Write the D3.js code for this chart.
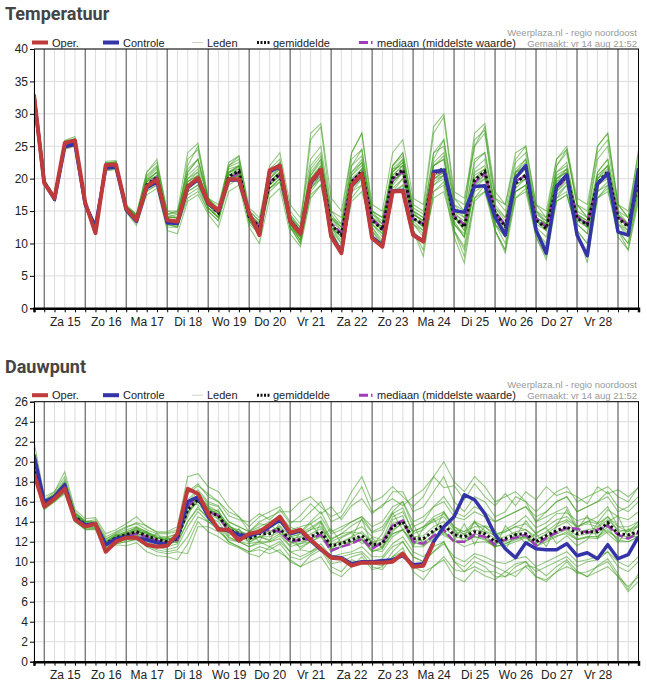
<!DOCTYPE html>
<html>
<head>
<meta charset="utf-8">
<script src="https://cdn.jsdelivr.net/npm/d3@7"></script>
<style>
  body { margin: 0; background: #fff; }
  text { font-family: Arial, "Liberation Sans", sans-serif; }
</style>
</head>
<body>
<script type="text/javascript">
// 6-hourly steps, first point vr 14 aug 18:00
var start = new Date(2020, 7, 14, 18),
    nSteps = 60,
    dayNames = ["Zo", "Ma", "Di", "Wo", "Do", "Vr", "Za"];

// ---- Temperatuur ----
var tOper = [32.9,19.3,17.0,25.5,25.9,16.3,11.6,22.1,22.2,15.4,
  13.6,18.8,19.9,13.6,13.4,18.8,20.1,16.3,15.1,19.9,
  19.9,14.7,11.3,21.3,22.0,13.4,11.5,19.5,21.4,11.1,
  8.5,19.0,20.7,10.8,9.5,18.0,18.1,11.3,10.3,20.9];
var tControle = [32.6,19.4,16.8,24.9,25.3,16.0,12.6,21.6,21.8,15.2,
  13.4,18.6,19.5,13.2,13.1,18.6,19.9,16.2,15.0,19.8,
  19.8,14.6,11.4,21.1,21.8,13.5,11.6,19.4,21.3,11.3,
  8.7,18.9,20.6,11.0,9.7,18.1,18.2,11.4,10.4,21.1,
  21.3,15.1,14.8,18.8,18.9,14.1,11.3,20.1,22.0,12.1,
  8.5,18.8,20.6,11.3,8.1,19.2,20.8,11.8,11.3,21.6];
var tGemiddelde = [33.0,19.5,17.0,25.2,25.5,16.0,12.4,21.8,22.0,15.4,
  13.8,19.0,20.2,13.5,13.3,18.9,20.1,16.2,14.7,20.3,
  21.2,14.1,12.6,19.3,20.8,13.6,11.6,19.3,21.6,12.9,
  11.3,19.5,21.1,13.6,12.1,20.1,21.4,13.9,12.9,20.8,
  21.6,14.1,12.5,19.8,21.1,14.7,12.6,19.3,20.6,13.6,
  12.3,18.8,20.3,13.9,12.9,19.3,21.1,13.9,12.6,19.8];
var tMediaan = [33.0,19.5,17.0,25.3,25.6,16.0,12.5,21.9,22.1,15.4,
  13.8,19.1,20.2,13.5,13.3,18.7,19.9,16.1,14.8,20.0,
  20.9,14.2,12.7,19.6,20.4,13.5,11.7,19.0,21.2,13.1,
  11.6,19.7,20.9,13.7,12.3,20.0,21.1,13.8,13.0,20.5,
  21.3,14.3,12.9,19.4,20.8,14.9,12.8,19.6,20.5,13.9,
  12.6,18.6,20.1,14.1,13.0,19.0,20.9,14.1,12.8,19.5];
var tLeden = [
  "33.5 | 19.8 17.2 25.8 26.2 | 16.3 12.8 22.5 22.6 | 15.8 14.3 19.8 21 | 14.5 14 20.5 22 | 17 15 21 22 | 15 13.5 21 22.5 | 14.5 12 22 24 | 14 12 21 23 | 15 13 22 23.5 | 15 14 24 25 | 16 14 23 24 | 16 14 21 22 | 14 13 20 21 | 15 14 21 23 | 15 13 21",
  "32.5 | 19.2 16.8 24.5 25 | 15.7 12 21.3 21.5 | 15 13.5 18 19 | 12.5 12.5 17 18 | 15 13.5 19 20 | 13 11.5 18 19.5 | 12.5 10 17.5 19 | 12 10 18 19 | 12.5 10.5 18 19 | 12 10 17 18 | 12 9 17 18 | 13 10 17 18.5 | 12 9.5 16.5 17.5 | 12 10 17 18 | 12 10 17",
  "33.2 | 19.6 17.1 25.3 25.8 | 16.2 12.6 22.3 22.4 | 15.6 14.2 20 21.5 | 14 13 23 24.5 | 16.5 15 22 23 | 14.5 13 21 22 | 14 12 26 28 | 15 13 23 24.5 | 14 12 22 24 | 16 15 27 29.5 | 17 15 26 27.5 | 15 13 21 22.5 | 14 12 22 24 | 16 14 24 26 | 16 14 22",
  "32.8 | 19.4 16.9 25 25.3 | 15.9 12.3 21.8 21.8 | 15.2 13.7 19 20 | 13 13.5 18 19 | 15.5 14 20 20.5 | 13.5 12 19 20.5 | 13 11 19 20.5 | 12.5 11 18.5 20 | 13 11.5 19.5 21 | 13 12 20 20.5 | 13 11 19 20 | 14 12 19 20 | 13 12 18 19.5 | 13.5 12.5 19 20.5 | 13 12 19",
  "33.3 | 19.7 17 25.6 26 | 16.1 12.5 22 22.3 | 15.5 14 20.5 22 | 15 14.5 22 25 | 17 15.5 21.5 22 | 14 12 20 21.5 | 13 10.5 19 21 | 12 9 17 19 | 12 10 18 20 | 12 9 18 19.5 | 12 8 17 19 | 12 9 18 19 | 11 8 17 18 | 11 8 17 19 | 12 9 18",
  "32.9 | 19.5 17 25.1 25.4 | 16 12.4 21.7 22 | 15.4 13.8 18.5 19.5 | 13.5 13.5 19.5 20.5 | 16 14 20.5 21.5 | 14.5 13 20 22 | 14 12 20.5 23 | 14 12.5 21 22.5 | 14 13 21 23 | 15 14 22 23 | 15 13 21.5 23 | 15.5 13.5 20.5 22 | 14.5 13.5 20 21.5 | 14.5 13.5 20.5 22 | 14.5 13 21",
  "33.6 | 19.9 17.3 25.9 26.5 | 16.4 12.9 22.7 22.8 | 16 14.5 21 22.5 | 15 15 21 23 | 17 16 22 23.5 | 15.5 14 22 24 | 16 14 23 25 | 15 14 24 27 | 16 15 24 26 | 17 16 28 30 | 18 17 25 27 | 17 16 23 25 | 16 14 23 24.5 | 16 15 25 27 | 16 15 24",
  "32.6 | 19.3 16.8 24.7 25.1 | 15.8 11.8 21.2 21.4 | 14.8 12.8 17.5 18.5 | 12 11.5 16.5 17.5 | 14.5 12.5 18 19 | 12.5 10 17 18.5 | 11.5 9.5 17 19 | 11 8.5 16.5 18 | 12 9.5 17.5 19 | 12 8 18 19 | 11 7 16.5 18 | 12 8.5 17 18 | 11 7.5 16.5 17.5 | 12 7 17 18.5 | 11 9 16.5",
  "33.1 | 19.5 17 25.4 25.6 | 16 12.6 22.1 22.3 | 15.6 14 19.5 20.5 | 14 14 20 21 | 16.5 15 21 22 | 14 12.5 20 21.5 | 13.5 12 20 22 | 13.5 12 20.5 22 | 14 12.5 20.5 22 | 14.5 13.5 22 23 | 14 13 21 22 | 15 13 20 21.5 | 14 13 20 21 | 14.5 13.5 20 22 | 14.5 13 20.5",
  "33.4 | 19.6 17.1 25.6 25.9 | 16.2 12.7 22.4 22.5 | 15.7 14.5 21 23 | 14.5 15 24 25.5 | 17 15 22.5 23.5 | 15 13.5 21.5 23 | 15 13 27 28.5 | 17 15 24 27 | 15 14 21 22.5 | 15 13 23 26 | 16 15 25 28 | 17 15 22.5 24 | 15 13 22 24.5 | 16 14 23 25 | 15 14 23",
  "32.7 | 19.4 16.9 24.9 25.2 | 15.9 12.2 21.6 21.7 | 15.3 13.6 18.5 19.5 | 13 12.5 18 19 | 15.5 14 19.5 20 | 13.5 11.5 18.5 20 | 13 10.5 18 20 | 12.5 10 18 20 | 13 11 18.5 20 | 13 11.5 19 20 | 13 11 18 19 | 13 11 18 19 | 12.5 11 17 19 | 13 11.5 18 19.5 | 13 11 18",
  "33 | 19.5 17 25.2 25.5 | 16 12.5 22 22.1 | 15.5 14 19 20 | 13.5 13 19 20 | 16 14.5 20.5 21 | 14 12.5 19.5 21 | 13.5 11.5 19.5 21.5 | 13 11.5 19.5 21 | 13.5 12 20 21.5 | 14 13 21 21.5 | 14 12.5 20 21 | 14.5 12.5 19.5 20.5 | 13.5 12.5 19 20.5 | 14 13 19.5 21 | 14 12.5 20",
  "33.2 | 19.6 17.1 25.4 25.7 | 16.1 12.6 22.2 22.3 | 15.5 14.2 19.5 21 | 14 14 20 21.5 | 16 14.5 21 21.5 | 14 13 20.5 22 | 14 12.5 21 23 | 14 13 22 24.5 | 15 14 22 24 | 15.5 14.5 24 26 | 17 16 27 28.5 | 18 16 24 25 | 16 15 23 25 | 17 16 25 27 | 16 14 24.5",
  "32.8 | 19.4 16.9 24.9 25.3 | 15.9 12.3 21.9 22 | 15.4 13.9 18.8 19.8 | 13 12.5 18.5 19.5 | 15.5 14 20 20.5 | 13.5 11.5 19 20.5 | 12.5 10 18.5 20.5 | 12 9 19 21 | 12.5 10 19 21 | 13 11 20 21 | 12 9.5 19 20.5 | 12 9 19 20 | 11.5 9 18 20 | 12 10 19 20.5 | 12 10 19",
  "33.1 | 19.6 17 25.2 25.4 | 16.1 12.4 21.5 21.9 | 15.3 14.1 20.3 21.8 | 14.2 13.8 21 23 | 16.8 15.2 21.8 22.5 | 14.2 12.8 19 20.5 | 13 11 20.5 22.5 | 13.8 12.5 22 23.5 | 14.5 13 20.5 22 | 14 12.5 19 20.5 | 13.5 11 18.5 20 | 13 11 21 23 | 15 13.5 21 22.5 | 14.5 12.5 19 20 | 13.5 12 20",
  "32.7 | 19.3 16.9 24.8 25.2 | 15.8 12.2 21.5 21.6 | 15.1 13.5 18.2 19 | 12.8 12.8 17.5 18.5 | 15 13.5 19.5 20.5 | 13.8 12 19.5 21 | 13.5 11.5 20 22 | 12.5 10.5 19 21 | 13.5 12 21 22.5 | 14.5 13.5 22 23.5 | 15 14 22.5 24 | 15.5 14 21.5 23 | 15 14 21 22 | 14 13 20 21 | 14 13 20.5",
  "33.3 | 19.7 17.1 25.5 25.9 | 16.2 12.8 22.4 22.6 | 15.7 14.4 19.5 20.5 | 14.5 14.8 19.5 21 | 16.2 14.8 20 20.5 | 14 12 18.5 20 | 12.5 10.5 18.5 20.5 | 13 11 19.5 21.5 | 13 11.5 21.5 23 | 13.5 12 22.5 24 | 14.5 12 20 21.5 | 14 11.5 18 19 | 12 10 17.5 19 | 13 11.5 21 23 | 14.5 12.5 21.5",
  "32.9 | 19.5 17 25 25.5 | 16 12.4 21.9 22 | 15.4 13.9 19.2 20.2 | 13.5 13.2 18.8 19.8 | 16 14.8 20.8 21.8 | 14.5 13.2 20.5 22.5 | 14.5 12.5 21.5 23.5 | 14.5 12.5 20 21.5 | 13.5 12.5 19.5 21 | 14 12.5 20.5 21 | 14 12 19.5 20.5 | 14 12 18.5 20 | 13.5 12 19.5 21.5 | 14.5 13 20.5 22 | 14 12.5 19.5",
  "33 | 19.5 17 25.2 25.6 | 16 12.5 22 22.2 | 15.5 14 19.8 21 | 14 14.5 21.5 23 | 16.5 15 20.5 21 | 13.5 11.5 18.5 19.5 | 12.5 11 18.5 20 | 12.5 11 20.5 22.5 | 14.5 13.5 21.5 22 | 14 12.5 19.5 20.5 | 13 11.5 19.5 21 | 14.5 13 21 21.5 | 14 13 20.5 21.5 | 14 12.5 18 19 | 13 11.5 18.5",
  "32.8 | 19.4 16.9 25 25.3 | 15.9 12.4 21.7 21.9 | 15.4 13.8 19 20 | 13.5 13 19.5 20.5 | 15.5 14 20 21 | 14 12.5 19.5 21 | 13.5 12 19 21 | 13 11.5 19.5 21.5 | 14 12.5 19.5 21 | 14.5 13.5 20 21 | 14.5 13.5 20.5 21.5 | 14 12.5 19.5 20.5 | 13.5 12.5 19.5 20.5 | 14 13 20 21.5 | 14 13 19.5"
];

// ---- Dauwpunt ----
var dOper = [18.8,15.5,16.3,17.3,14.2,13.5,13.8,11.0,12.0,12.4,
  12.4,11.7,11.5,11.6,12.8,17.3,16.8,14.8,13.2,13.2,
  12.1,12.8,13.0,13.7,14.5,12.9,13.2,12.2,11.3,10.4,
  10.3,9.6,9.9,9.9,9.9,10.0,10.8,9.5,9.6,11.9];
var dControle = [20.7,16.0,16.5,17.7,14.3,13.7,13.8,11.7,12.3,12.5,
  12.4,12.2,11.9,11.7,12.5,16.0,16.5,14.5,13.3,13.1,
  12.7,12.6,12.9,13.5,14.2,12.8,13.1,12.1,11.2,10.5,
  10.4,9.8,10.0,10.0,10.1,10.2,10.6,9.7,9.8,12.0,
  13.5,14.5,16.7,16.2,14.8,12.7,11.3,10.4,11.9,11.3,
  11.2,11.2,11.8,10.6,10.9,10.3,11.7,10.3,10.7,12.5];
var dGemiddelde = [19.5,15.8,16.5,17.5,14.5,13.7,13.7,11.8,12.4,12.7,
  13.0,12.6,12.2,12.0,12.3,15.2,16.2,15.0,14.6,13.2,
  12.8,12.3,12.8,12.8,13.3,12.2,12.2,12.5,13.0,11.6,
  11.8,12.2,12.6,11.7,11.8,13.5,14.0,12.3,12.3,13.1,
  13.7,12.7,12.5,13.0,12.8,12.0,12.3,12.7,12.8,12.0,
  12.6,13.1,13.5,12.8,13.0,13.0,13.9,12.8,12.7,13.0];
var dMediaan = [19.2,15.8,16.5,17.5,14.3,13.6,13.7,11.6,12.3,12.6,
  12.8,12.5,12.1,11.9,12.2,15.6,16.4,15.0,14.6,13.0,
  12.5,12.6,13.0,13.2,13.0,12.0,12.2,12.3,12.7,11.1,
  11.5,11.8,12.3,11.3,11.9,13.6,14.1,12.0,11.8,12.6,
  13.2,12.0,12.0,12.7,12.5,11.7,12.2,12.4,12.7,11.6,
  12.4,12.9,13.4,13.3,12.9,13.2,13.6,12.7,12.3,12.9];
var dLeden = [
  "20 | 16 16.8 18 14.8 | 14 14 12.3 12.8 | 13.2 13.5 13 12.5 | 12.3 12.5 16 17 | 15.8 15.5 14 13.5 | 13 13.5 14 14.5 | 13.5 13 14 15 | 13 13.5 14 14.5 | 13 13.5 15 16 | 14 14.5 15.5 16.5 | 15 14.5 15.5 15 | 14 14.5 15 15.5 | 14 15 16 16.5 | 15 15.5 16 17 | 15.5 15 16",
  "19 | 15.5 16.2 17 14.2 | 13.4 13.4 11.4 12 | 12.2 12.5 12 11.6 | 11.5 11.8 14 15.5 | 14.2 13.6 12.4 12 | 11.5 12 11.5 12 | 11 11.2 11 11.5 | 10.2 10.5 10.8 11 | 10 10.3 11.5 12 | 10.5 10 11 11.8 | 10.5 10 10.8 10.5 | 10 9.8 10.3 10.5 | 9.5 10 10.5 11 | 10 10.2 10.5 11 | 10 9.5 10.5",
  "21 | 16.2 17 18.5 15 | 14 14.2 12.5 13 | 13.5 13.8 13.2 12.8 | 12.8 13 17 17.8 | 16.5 16 15 14.5 | 13.5 14.5 15 15.5 | 14 14 15 16 | 14 14.5 16 17.5 | 15 15.5 17 17 | 15 15.5 17 18.5 | 16 15 16.5 16 | 14.5 15 16.5 16 | 14 14.5 15 15.5 | 13.5 14 14.5 15.5 | 13.5 13 14",
  "18.5 | 15.2 16 17 14 | 13.2 13.2 11 11.8 | 12 12.2 11.6 11.2 | 11 11.2 12.5 14.5 | 14 13.2 12 11.5 | 11 11.5 11.2 11.8 | 10.5 10.2 10.8 11.5 | 9.8 10 10.5 10.8 | 9.5 9.2 10.5 11 | 9.5 9 9.5 10.5 | 9.2 9 10 9.5 | 8.5 8.5 9.5 10 | 8.5 8.2 9 10 | 8.8 9 9.5 10 | 8.5 7.5 8.5",
  "20.5 | 16 16.6 17.6 14.6 | 13.8 13.8 12 12.6 | 13 13.4 13 12.4 | 12.2 12.5 15.5 16.5 | 15.2 14.8 13.5 13.2 | 12.5 13.2 13.5 14 | 12.8 12.5 13.2 14 | 12 12.5 13 13.5 | 12.5 12.2 14.5 15 | 13 13.5 14.5 15 | 13.5 13 14 13.5 | 12.5 13 13.5 13.8 | 12.8 13.5 14.2 14.5 | 13.5 14 13.8 14.5 | 13.5 13.5 14",
  "19.2 | 15.7 16.4 17.3 14.4 | 13.6 13.6 11.7 12.3 | 12.5 12.8 12.5 12 | 11.8 12 14.8 16 | 14.8 14.3 13 12.5 | 12 12.5 12.5 13 | 12 12 12.2 12.8 | 11.5 11.8 12 12.5 | 11.5 11.8 13.2 13.8 | 12 12.2 13 13.5 | 12.5 12.3 12.8 12.5 | 11.8 12 12.5 12.6 | 11.8 12.5 13 13.3 | 12.6 12.8 12.8 13.8 | 12.6 12.5 12.8",
  "22 | 16.5 17 19 15.2 | 14.3 14.4 12.8 13.2 | 13.8 14.5 13.5 13 | 13 13.5 18.5 18.8 | 17.5 17 15.5 14.5 | 13 14 14.5 15 | 15 16 16.5 15.5 | 14.5 15 17 18.5 | 16 16.5 17.5 16.5 | 15.5 16.5 18.5 20 | 18 17 18.5 17.5 | 16 16.5 17 16 | 15 16 17 17.5 | 16 16.5 17 17.5 | 16.5 16 17.5",
  "19 | 15.6 16.3 17.2 14.3 | 13.5 13.5 11.5 12.1 | 12.4 12.7 12.3 11.9 | 11.8 12 14 15.3 | 14.5 14 12.5 12 | 11.5 11.8 12 12.3 | 11 10.5 11 11.8 | 10.5 10.8 11 11.5 | 10.5 10.5 11.8 12.5 | 11 10.5 11.5 12 | 10 9.5 10.5 10 | 9.5 9 9.8 10 | 9 9.5 10 10.5 | 9.5 10 10.2 11 | 9.5 9 10",
  "19.8 | 15.9 16.6 17.6 14.6 | 13.8 13.8 11.9 12.5 | 12.8 13 12.8 12.3 | 12.2 12.6 15 16.2 | 15 14.6 13.4 13 | 12.8 13.3 13 13.6 | 12.5 12.4 12.8 13.3 | 11.8 12 12.5 13 | 12 12.2 13.8 14.2 | 12.5 12.6 13.5 14 | 13 12.8 13.2 13 | 12.3 12.5 13 13.2 | 12.2 12.8 13.5 14 | 13 13.2 13.4 14.2 | 13.2 13 13.5",
  "19.4 | 15.8 16.5 17.5 14.5 | 13.7 13.6 11.7 12.4 | 12.6 13.2 12.4 12.1 | 12 12.2 15.3 16.3 | 15.3 14.8 13 12.6 | 12.2 12.5 12.2 12.8 | 12.5 12.8 13.2 13.5 | 12.2 12.8 13 12.8 | 12 11.5 13 14 | 13 13.5 14 14.5 | 13.2 13 13.5 13.5 | 12.8 13 13.5 13.2 | 12.5 13 13.8 14.2 | 13.5 13.8 13.5 14.5 | 13 13.2 13.6",
  "18.8 | 15.4 16.2 17.2 14.2 | 13.4 13.4 11.4 12 | 12.2 12.4 11.8 11.5 | 11.2 11.5 13.5 15 | 14 13.5 12 11.5 | 11 11.2 10.8 11.2 | 10 9.5 10 10.5 | 9 8.5 9.5 10.5 | 9.2 9.5 11 12 | 10.5 10 11 12 | 10 9 9.5 9 | 9 8.5 9 9.5 | 8.5 8 9 9.5 | 9 8.5 9 9.5 | 8.5 7 8",
  "19.6 | 15.9 16.6 17.8 14.7 | 13.9 13.9 12 12.6 | 12.9 13.2 12.9 12.4 | 12.4 12.8 16.2 17.2 | 16 15.6 14 13.5 | 13 13.8 13.6 14 | 13.2 13.5 13.8 14.5 | 12.8 13.2 14 14.5 | 13.5 14 15.5 16 | 13.5 14 15.5 16 | 14.5 14.2 15 14.5 | 14 14.5 15 15.5 | 14.5 15 16 16.5 | 15 15.5 16 16.5 | 15 15.5 16.5",
  "20.2 | 16 16.7 17.8 14.8 | 14 13.9 12.1 12.7 | 13 13.3 12.9 12.6 | 12.5 12.8 15.6 16.6 | 15.6 15 13.6 13 | 12.5 12.8 13 13.5 | 12 11.5 12 12.6 | 11.2 11.5 12 12.3 | 11.2 11 12.5 13.2 | 11.5 11.5 12.5 13 | 12 12 12.5 12.2 | 11.5 11.8 12.2 12.5 | 11.5 12 12.5 13 | 12.2 12.5 12.5 13.5 | 12 12 12.5",
  "18.4 | 15.3 16 16.8 14 | 13.3 13.3 11.2 11.8 | 12 12.3 11.5 11 | 10.8 11 10.8 13.5 | 13.5 13 12.2 12 | 11.8 12 12 12.6 | 11.5 11.8 12 12.5 | 11 11.5 12 12.2 | 11 11.3 12.8 13.2 | 11.8 12 12.5 13 | 12.2 12 12.5 12.3 | 11.5 11.8 12.3 12.5 | 11.5 12.3 12.8 13.2 | 12.3 12.5 12.5 13.2 | 12.2 12 12.5",
  "19.9 | 15.8 16.6 17.9 14.6 | 13.9 13.6 11.9 12.7 | 12.5 13.5 12.3 12.8 | 11.8 12.6 14.5 16.8 | 15.5 14.2 13.8 12.2 | 12.9 12 13.8 12.8 | 11.6 12.9 13.8 12.5 | 13.3 11.9 12.4 14.3 | 11.5 12.8 14.9 13.2 | 13.8 11.7 12.8 15 | 13.3 11.9 14.1 12.4 | 11.4 13.6 12.5 14.1 | 12.8 11.5 13.6 15.2 | 13.2 14.6 12.3 14 | 14.6 12.4 13.8",
  "19.3 | 15.7 16.4 17.4 14.4 | 13.6 13.8 11.6 12.2 | 12.9 12.6 13 11.8 | 12.4 11.9 15.8 15.7 | 14.8 15.2 12.6 13.3 | 11.9 12.5 12.1 14 | 12.7 11.3 12 13.9 | 11.2 12.4 12.9 11.8 | 12.4 11.3 14.2 14.6 | 11.5 13.4 14.3 12.6 | 12.1 13.8 11.7 13.6 | 13.2 11.2 12.9 11.8 | 12.9 13.4 11.8 12.6 | 11.6 12.2 13.9 12.8 | 11.9 13.3 12.1",
  "20.6 | 16.1 16.8 18.2 14.9 | 14.1 14 12.2 12.9 | 13.4 13.9 13.6 12.9 | 12.9 13.2 16.8 17.6 | 16.8 16 14.6 14.2 | 14 14.8 14.2 15.2 | 13.8 14.6 15.8 14.8 | 15.5 14.2 15.6 16.3 | 14.8 15.7 16.3 15.6 | 16.5 17.2 18.5 17.4 | 17.6 16.2 17.8 16.5 | 15.6 16.8 15.6 17 | 16.2 17.5 16.6 17 | 16.5 15.8 17.5 16.8 | 17.2 16.5 17.4",
  "18.6 | 15.3 16.1 16.9 14.1 | 13.2 13.3 11.1 11.7 | 11.6 11.9 11 10.6 | 10.5 10.2 11.8 14 | 13 12.5 11.8 11.4 | 10.8 10.5 11.5 10.9 | 10.2 9.5 10.6 11.2 | 9.5 9 10.2 9.8 | 9.8 9.6 10.5 11.4 | 9 8.2 9.6 10.2 | 8.5 8 9.2 8.6 | 8.2 9 8.5 9.6 | 9.4 8.6 9.5 10.2 | 9.1 8.5 9.6 10.3 | 8.8 7.2 8.8",
  "19.7 | 15.9 16.5 17.7 14.6 | 13.8 13.7 11.9 12.5 | 12.8 13.1 12.7 12.4 | 12.1 12.4 15.5 16.4 | 15.4 15 13.6 12.9 | 12.6 13.1 13.5 14.2 | 12.8 12.9 13.4 14.1 | 12.3 12.8 13.6 14.2 | 12.9 13.2 14.8 15.4 | 12.8 13.2 14.2 14.8 | 13.5 12.7 13.9 13.1 | 12.6 13.2 13.8 14.6 | 13.4 13.9 14.8 14.9 | 14.1 14.4 13.9 15.2 | 14.5 14.2 15",
  "19.4 | 15.7 16.5 17.4 14.5 | 13.6 13.7 11.8 12.4 | 12.7 12.9 12.4 12.1 | 12 12.1 15 16 | 15 14.5 13.1 12.8 | 12.3 12.5 12.9 13.2 | 12 11.8 12.3 12.8 | 11.3 11.5 11.8 12.2 | 11 11.5 12.8 13.2 | 12 11.6 12.3 12.8 | 12.1 11.5 11.9 12 | 11.6 11.6 12 12.4 | 11.6 12.2 12.6 12.8 | 12.2 12.4 12.3 13 | 12.4 12.3 12.6"
];

var tTicks = d3.range(0, 41, 5),
    dTicks = d3.range(0, 27, 2);

function nums(s) {
  return s.replace(/\|/g, " ").trim().split(/\s+/).map(Number);
}

var W = 647, H = 683,
    left = 34, right = 638.5;

var svg = d3.select("body").append("svg")
    .attr("width", W)
    .attr("height", H);

var times = d3.range(nSteps).map(function(i) { return d3.timeHour.offset(start, 6 * i); });

var x = d3.scaleTime()
    .domain([times[0], times[nSteps - 1]])
    .range([left, right]);

var sixHours = d3.timeHour.every(6).range(times[0], d3.timeHour.offset(times[nSteps - 1], 1)),
    midnights = d3.timeDay.range(times[0], times[nSteps - 1]),
    noons = midnights.map(function(d) { return d3.timeHour.offset(d, 12); })
                     .filter(function(d) { return x(d) < right - 5; });

function drawChart(oy, title, yTop, yBottom, ymax, ticks, leden, oper, controle, gem, med, id) {
  var g = svg.append("g");
  var y = d3.scaleLinear().domain([0, ymax]).range([yBottom, yTop]);

  g.append("text")
    .attr("x", 5).attr("y", oy + 20)
    .style("font-family", "Roboto, Arial, sans-serif")
    .style("font-weight", "bold")
    .style("font-size", "18px")
    .style("fill", "#444")
    .text(title);

  // credit
  g.append("text")
    .attr("x", 637).attr("y", oy + 35.5)
    .attr("text-anchor", "end")
    .style("font-size", "9.5px").style("fill", "#999")
    .text("Weerplaza.nl - regio noordoost");
  g.append("text")
    .attr("x", 637).attr("y", oy + 46.5)
    .attr("text-anchor", "end")
    .style("font-size", "9.5px").style("fill", "#999")
    .text("Gemaakt: vr 14 aug 21:52");

  // legend
  var ly = oy + 42.5;
  var legend = [
    {x1: 32, x2: 48, tx: 52, label: "Oper.", color: "#bf3a3a", w: 4, dash: null},
    {x1: 103, x2: 119, tx: 123, label: "Controle", color: "#3434a8", w: 4, dash: null},
    {x1: 192, x2: 203, tx: 207, label: "Leden", color: "#c9d6c2", w: 1, dash: null},
    {x1: 257, x2: 270, tx: 273, label: "gemiddelde", color: "#111", w: 3, dash: "2,1.5"},
    {x1: 359, x2: 373, tx: 377, label: "mediaan (middelste waarde)", color: "#a23cb8", w: 3, dash: "9,3,1.5,3"}
  ];
  legend.forEach(function(l) {
    g.append("line")
      .attr("x1", l.x1).attr("x2", l.x2)
      .attr("y1", ly).attr("y2", ly)
      .style("stroke", l.color)
      .style("stroke-width", l.w)
      .style("stroke-dasharray", l.dash);
    g.append("text")
      .attr("x", l.tx).attr("y", ly + 4)
      .style("font-size", "11px").style("fill", "#222")
      .text(l.label);
  });

  // grid
  g.selectAll(".hgrid")
      .data(ticks)
    .enter().append("line")
      .attr("x1", left).attr("x2", right)
      .attr("y1", function(d) { return y(d); })
      .attr("y2", function(d) { return y(d); })
      .style("stroke", "#ddd");

  g.selectAll(".vgrid")
      .data(sixHours)
    .enter().append("line")
      .attr("x1", function(d) { return x(d); })
      .attr("x2", function(d) { return x(d); })
      .attr("y1", yTop).attr("y2", yBottom)
      .style("stroke", "#ddd");

  g.selectAll(".day")
      .data(midnights)
    .enter().append("line")
      .attr("x1", function(d) { return x(d); })
      .attr("x2", function(d) { return x(d); })
      .attr("y1", yTop).attr("y2", yBottom)
      .style("stroke", "#555");

  // lines
  g.append("clipPath").attr("id", id)
    .append("rect")
      .attr("x", left).attr("y", yTop)
      .attr("width", right - left).attr("height", yBottom - yTop);

  var plot = g.append("g").attr("clip-path", "url(#" + id + ")");

  var line = d3.line()
      .x(function(d, i) { return x(times[i]); })
      .y(function(d) { return y(d); });

  plot.selectAll(".lid")
      .data(leden.map(nums))
    .enter().append("path")
      .attr("d", line)
      .style("fill", "none")
      .style("stroke", "#3c9c1c")
      .style("stroke-opacity", 0.55)
      .style("stroke-width", 1.1);

  plot.append("path").attr("d", line(med))
    .style("fill", "none").style("stroke", "#a23cb8")
    .style("stroke-width", 2.5).style("stroke-dasharray", "9,3");
  plot.append("path").attr("d", line(gem))
    .style("fill", "none").style("stroke", "#111")
    .style("stroke-width", 3).style("stroke-dasharray", "2.5,2.5");
  plot.append("path").attr("d", line(controle))
    .style("fill", "none").style("stroke", "#3434a8")
    .style("stroke-width", 3.5).style("stroke-linejoin", "round");
  plot.append("path").attr("d", line(oper))
    .style("fill", "none").style("stroke", "#bf3a3a")
    .style("stroke-width", 4).style("stroke-linejoin", "round");

  // frame
  g.append("line").attr("x1", left).attr("x2", right + 0.5)
    .attr("y1", yTop).attr("y2", yTop).style("stroke", "#000");
  g.append("line").attr("x1", right).attr("x2", right)
    .attr("y1", yTop).attr("y2", yBottom).style("stroke", "#000");

  // axes
  var yAxis = g.append("g")
      .attr("transform", "translate(" + left + ",0)")
      .call(d3.axisLeft(y).tickValues(ticks).tickSize(4).tickPadding(2));
  yAxis.select(".domain").style("stroke", "#000");
  yAxis.selectAll("text").style("font-size", "12px").style("fill", "#222")
      .style("font-family", "Arial, 'Liberation Sans', sans-serif");

  var xTicks = g.append("g")
      .attr("transform", "translate(0," + yBottom + ")")
      .call(d3.axisBottom(x).tickValues(sixHours).tickSize(4).tickFormat(""));
  xTicks.select(".domain").style("stroke", "#000").style("stroke-width", 2.5);

  var xLabels = g.append("g")
      .attr("transform", "translate(0," + yBottom + ")")
      .call(d3.axisBottom(x).tickValues(noons).tickSize(0).tickPadding(9)
        .tickFormat(function(d) { return dayNames[d.getDay()] + " " + d.getDate(); }));
  xLabels.select(".domain").remove();
  xLabels.selectAll("text").style("font-size", "12px").style("fill", "#222")
      .style("font-family", "Arial, 'Liberation Sans', sans-serif");
}

drawChart(0, "Temperatuur", 49, 308.3, 40, tTicks, tLeden, tOper, tControle, tGemiddelde, tMediaan, "clipT");
drawChart(352.7, "Dauwpunt", 401.7, 661.7, 26, dTicks, dLeden, dOper, dControle, dGemiddelde, dMediaan, "clipD");
</script>
</body>
</html>
